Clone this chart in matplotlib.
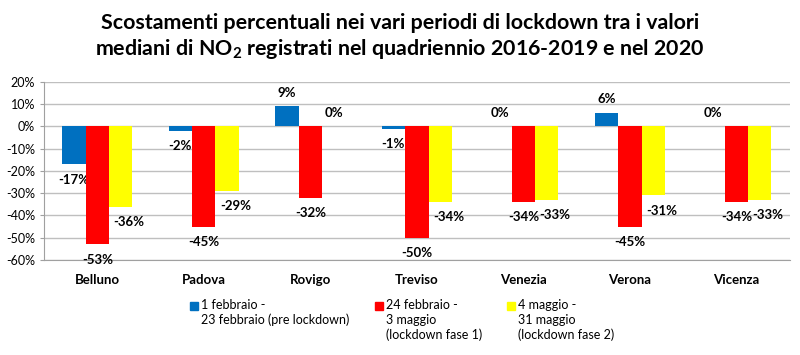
import numpy as np
import matplotlib
matplotlib.use("Agg")
import matplotlib.pyplot as plt
from matplotlib.patches import Rectangle
from matplotlib.ticker import FuncFormatter

plt.rcParams['font.family'] = ['Lato', 'DejaVu Sans']
plt.rcParams['mathtext.fontset'] = 'custom'
plt.rcParams['mathtext.rm'] = 'Lato:bold'
plt.rcParams['mathtext.it'] = 'Lato:bold'
plt.rcParams['mathtext.bf'] = 'Lato:bold'

# data
cities = ['Belluno', 'Padova', 'Rovigo', 'Treviso', 'Venezia', 'Verona', 'Vicenza']
pre_lockdown = [-17, -2, 9, -1, 0, 6, 0]
fase1 = [-53, -45, -32, -50, -34, -45, -34]
fase2 = [-36, -29, 0, -34, -33, -31, -33]
series_labels = ['1 febbraio -\n23 febbraio (pre lockdown)',
                 '24 febbraio -\n3 maggio\n(lockdown fase 1)',
                 '4 maggio -\n31 maggio\n(lockdown fase 2)']
colors = ['#0070C0', '#FF0000', '#FFFF00']

fig = plt.figure(figsize=(8, 3.55), dpi=100)
ax = fig.add_axes([0.055, 0.268, 0.932, 0.501])

x = np.arange(len(cities))
w = 0.22
all_series = [pre_lockdown, fase1, fase2]
for i, vals in enumerate(all_series):
    pos = x + (i - 1) * w
    ax.bar(pos, vals, width=w, color=colors[i], zorder=3)
    # yellow labels sit a bit to the right, like in the original
    dx = 6 if i == 2 else 0
    for px, v in zip(pos, vals):
        if v >= 0:
            ax.annotate('%d%%' % v, (px, v), xytext=(0, 10), textcoords='offset points',
                        ha='center', va='center', fontsize=9.5, fontweight='bold')
        else:
            ax.annotate('%d%%' % v, (px, v), xytext=(dx, -11), textcoords='offset points',
                        ha='center', va='center', fontsize=9.5, fontweight='bold')

ax.set_ylim(-60, 20)
ax.set_yticks(np.arange(-60, 21, 10))
ax.yaxis.set_major_formatter(FuncFormatter(lambda v, p: '%d%%' % v))
ax.set_xlim(-0.5, len(cities) - 0.5)
ax.set_xticks(x)
ax.set_xticklabels(cities, fontweight='bold', fontsize=9.5)
ax.tick_params(axis='x', length=0, pad=10)
ax.tick_params(axis='y', length=3, color='#a0a0a0', labelsize=9)
ax.grid(axis='y', color='#bfbfbf', linewidth=1, zorder=0)
for s in ['top', 'right']:
    ax.spines[s].set_visible(False)
ax.spines['left'].set_color('#a0a0a0')
ax.spines['bottom'].set_color('#a0a0a0')

fig.text(0.5, 0.935, 'Scostamenti percentuali nei vari periodi di lockdown tra i valori',
         ha='center', va='center', fontsize=15.4, fontweight='bold')
fig.text(0.5, 0.862, 'mediani di NO$_2$ registrati nel quadriennio 2016-2019 e nel 2020',
         ha='center', va='center', fontsize=15.4, fontweight='bold')

# legend drawn by hand so the squares sit on the first line
leg_x = [190, 375, 507]
for lx, c, lab in zip(leg_x, colors, series_labels):
    fig.add_artist(Rectangle((lx / 800, 1 - 310 / 355), 8 / 800, 8 / 355,
                             transform=fig.transFigure, color=c))
    fig.text((lx + 11) / 800, 1 - 299 / 355, lab, ha='left', va='top',
             fontsize=9, linespacing=1.25)

fig.savefig('out.png', dpi=100)
